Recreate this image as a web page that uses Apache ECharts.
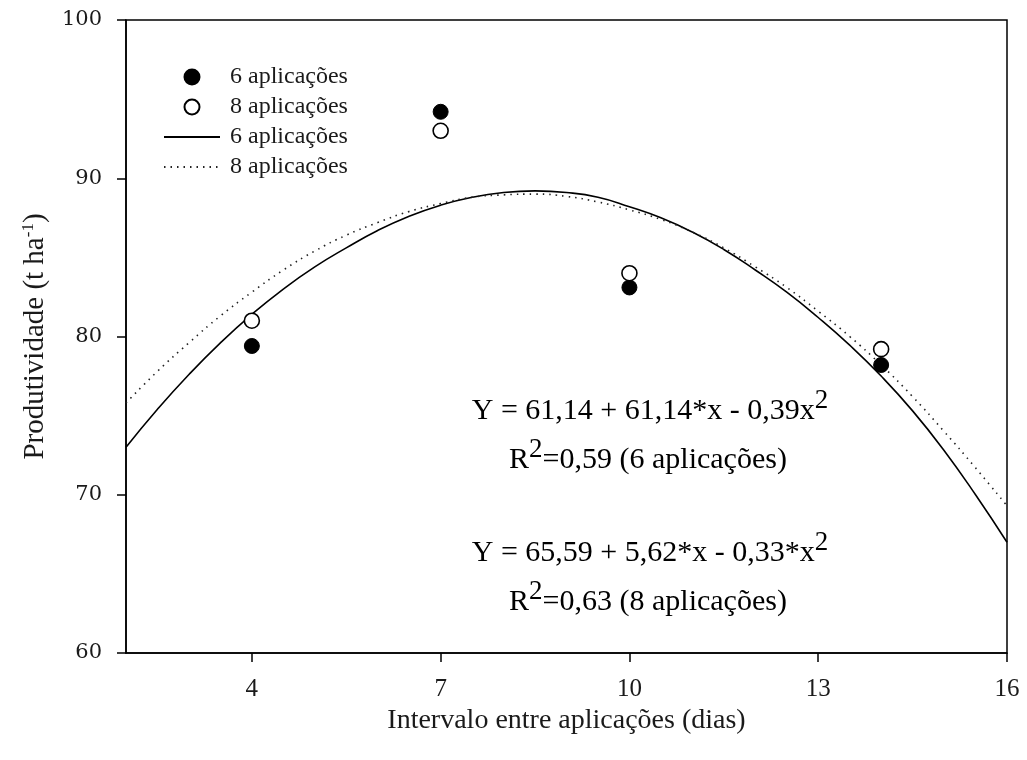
<!DOCTYPE html>
<html>
<head>
<meta charset="utf-8">
<title>Produtividade x intervalo entre aplicações</title>
<script src="https://cdn.jsdelivr.net/npm/echarts@6/dist/echarts.min.js"></script>
<style>
  html, body { margin: 0; padding: 0; background: #ffffff; }
  #chart { width: 1027px; height: 760px; }
</style>
</head>
<body>
<div id="chart"></div>
<script>
// Observed yields (t/ha) at each spraying interval (days)
const intervalDays = [4, 7, 10, 14];
const yield6 = [79.4, 94.2, 83.1, 78.2];   // 6 aplicações
const yield8 = [81.0, 93.0, 84.0, 79.2];   // 8 aplicações

// Fitted regression curves, sampled every half day along the interval axis
const curveDays = [2, 2.5, 3, 3.5, 4, 4.5, 5, 5.5, 6, 6.5, 7, 7.5, 8, 8.5, 9, 9.5,
                   10, 10.5, 11, 11.5, 12, 12.5, 13, 13.5, 14, 14.5, 15, 15.5, 16];
const fit6 = [73.0, 75.4, 77.6, 79.6, 81.4, 83.0, 84.4, 85.6, 86.7, 87.6, 88.3, 88.8, 89.1, 89.2, 89.1,
              88.8, 88.2, 87.5, 86.6, 85.5, 84.2, 82.8, 81.2, 79.45, 77.5, 75.3, 72.8, 70.0, 67.0];
const fit8 = [75.8, 77.8, 79.6, 81.3, 82.8, 84.2, 85.4, 86.4, 87.2, 87.9, 88.4, 88.8, 88.95, 89.0, 88.85,
              88.5, 88.0, 87.4, 86.6, 85.6, 84.4, 83.1, 81.6, 80.0, 78.2, 76.2, 74.0, 71.7, 69.3];

// Tick labels of the interval axis
const xTicks = [4, 7, 10, 13, 16];

const serif = '"Liberation Serif", "Times New Roman", serif';
const textColor = '#1a1a1a';

const pairs = (xs, ys) => xs.map((x, i) => [x, ys[i]]);

const chart = echarts.init(document.getElementById('chart'), null, { renderer: 'canvas' });

const eqStyle = { fontFamily: serif, fontSize: 30, color: textColor };
const supStyle = { fontFamily: serif, fontSize: 27, color: textColor, padding: [0, 0, 20, 0] };

function equation(text, x, y) {
  return {
    type: 'text', x: x, y: y,
    style: { text: text, rich: { e: eqStyle, s: supStyle }, align: 'center', verticalAlign: 'middle' }
  };
}

chart.setOption({
  backgroundColor: '#ffffff',
  animation: false,
  grid: {
    left: 126, right: 20, top: 20, bottom: 107,
    show: true, borderColor: '#000', borderWidth: 1.5, backgroundColor: 'transparent'
  },
  legend: {
    data: [
      { name: '6 aplicações' },
      { name: '8 aplicações' },
      { name: '6 aplicações\u200b', itemStyle: { opacity: 0 } },
      { name: '8 aplicações\u200b', itemStyle: { opacity: 0 } }
    ],
    orient: 'vertical',
    left: 158, top: 60,
    itemWidth: 56, itemHeight: 15, itemGap: 6,
    textStyle: { fontFamily: serif, fontSize: 24, color: textColor, padding: [0, 0, 0, 5] },
    selectedMode: false
  },
  xAxis: {
    type: 'value', min: 2, max: 16,
    name: 'Intervalo entre aplicações (dias)',
    nameLocation: 'middle', nameGap: 50,
    nameTextStyle: { fontFamily: serif, fontSize: 28, color: textColor },
    axisLine: { onZero: false, lineStyle: { color: '#000', width: 1.5 } },
    axisTick: { inside: false, length: 9, customValues: xTicks, lineStyle: { color: '#000', width: 1.5 } },
    axisLabel: { customValues: xTicks, margin: 24, fontFamily: serif, fontSize: 25, color: textColor },
    splitLine: { show: false }
  },
  yAxis: {
    type: 'value', min: 60, max: 100, interval: 10,
    name: '{t|Produtividade (t ha}{s|-1}{t|)}',
    nameLocation: 'middle', nameGap: 75, nameRotate: 90,
    nameTextStyle: {
      rich: {
        t: { fontFamily: serif, fontSize: 29, color: textColor },
        s: { fontFamily: serif, fontSize: 17, color: textColor, padding: [0, 0, 14, 0] }
      }
    },
    axisLine: { onZero: false, lineStyle: { color: '#000', width: 1.5 } },
    axisTick: { inside: false, length: 9, lineStyle: { color: '#000', width: 1.5 } },
    axisLabel: { margin: 24, fontFamily: '"DejaVu Serif", serif', fontSize: 21, color: textColor },
    splitLine: { show: false }
  },
  series: [
    {
      name: '6 aplicações', type: 'scatter', z: 5,
      data: pairs(intervalDays, yield6),
      symbol: 'circle', symbolSize: 15,
      itemStyle: { color: '#000', borderColor: '#000', borderWidth: 1, opacity: 1 }
    },
    {
      name: '8 aplicações', type: 'scatter', z: 5,
      data: pairs(intervalDays, yield8),
      symbol: 'circle', symbolSize: 15,
      itemStyle: { color: '#fff', borderColor: '#000', borderWidth: 1.6, opacity: 1 }
    },
    {
      name: '6 aplicações\u200b', type: 'line', z: 3,
      data: pairs(curveDays, fit6),
      smooth: true, symbol: 'none',
      lineStyle: { color: '#000', width: 1.6 },
      itemStyle: { color: '#000' }
    },
    {
      name: '8 aplicações\u200b', type: 'line', z: 3,
      data: pairs(curveDays, fit8),
      smooth: true, symbol: 'none',
      lineStyle: { color: '#222', width: 1.6, type: [1.5, 5] },
      itemStyle: { color: '#222' }
    }
  ],
  graphic: [
    equation('{e|Y = 61,14 + 61,14*x - 0,39x}{s|2}', 650, 411),
    equation('{e|R}{s|2}{e|=0,59 (6 aplicações)}', 648, 460),
    equation('{e|Y = 65,59 + 5,62*x - 0,33*x}{s|2}', 650, 553),
    equation('{e|R}{s|2}{e|=0,63 (8 aplicações)}', 648, 602)
  ]
});
</script>
</body>
</html>
